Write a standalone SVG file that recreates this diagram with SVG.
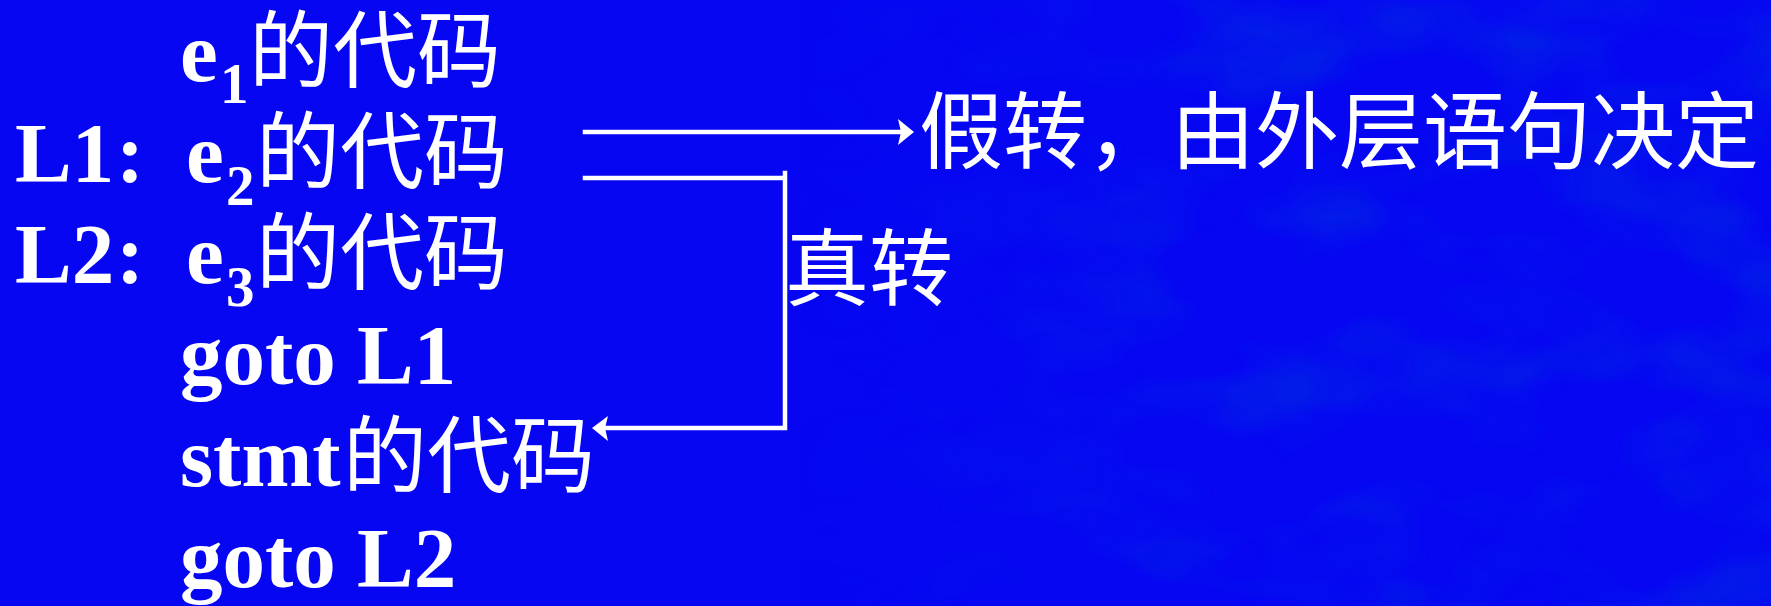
<svg xmlns="http://www.w3.org/2000/svg" width="1771" height="606" viewBox="0 0 1771 606">
<defs>
<style>
.t{fill:#fff;font-family:"Liberation Serif","Times New Roman",serif;font-weight:bold;font-size:85px}
.c{fill:#fff;font-family:"Noto Sans CJK SC","Noto Sans CJK JP",sans-serif;font-weight:normal;font-size:84px}
.s{font-size:57px}
.ln{fill:none;stroke:#fff;stroke-width:4.5;stroke-linecap:square}
.ah{fill:#fff;stroke:none}
</style>
<filter id="mottle" x="0" y="0" width="100%" height="100%">
<feTurbulence type="fractalNoise" baseFrequency="0.006 0.012" numOctaves="3" seed="7" result="n"/>
<feColorMatrix in="n" type="matrix" values="0 0 0 0 0  0 0 0 0 0.02  0 0 0 0 0.78  0 0 0 -2.2 1.25"/>
</filter>
<linearGradient id="fade" x1="0" y1="0" x2="1" y2="0">
<stop offset="0.45" stop-color="#fff" stop-opacity="0"/>
<stop offset="0.7" stop-color="#fff" stop-opacity="1"/>
</linearGradient>
<mask id="m"><rect width="1771" height="606" fill="url(#fade)"/></mask>
</defs>
<rect width="1771" height="606" fill="#0606f3"/>
<g id="bg" mask="url(#m)">
<rect width="1771" height="606" filter="url(#mottle)" opacity="0.8"/>
</g>
<g id="row-e1">
<text class="t" x="180" y="81">e<tspan class="s" x="220" y="103">1</tspan></text>
<text class="c" x="249" y="81">的代码</text>
</g>
<g id="row-L1">
<text class="t" x="15" y="182">L1<tspan x="116">:</tspan><tspan x="186">e</tspan><tspan class="s" x="226" y="205">2</tspan></text>
<text class="c" x="256" y="182">的代码</text>
</g>
<g id="row-L2">
<text class="t" x="15" y="283">L2<tspan x="116">:</tspan><tspan x="186">e</tspan><tspan class="s" x="226" y="306">3</tspan></text>
<text class="c" x="256" y="283">的代码</text>
</g>
<g id="row-goto1">
<text class="t" x="180" y="384">goto L1</text>
</g>
<g id="row-stmt">
<text class="t" x="180" y="486">stmt</text>
<text class="c" x="343" y="486">的代码</text>
</g>
<g id="row-goto2">
<text class="t" x="180" y="587">goto L2</text>
</g>
<g id="label-false">
<text class="c" x="919" y="162">假转，由外层语句决定</text>
</g>
<g id="label-true">
<text class="c" x="785" y="299">真转</text>
</g>
<g id="connectors">
<path class="ln" d="M585,132 H905"/>
<path class="ah" d="M914,132 L898,119 L901,132 L898,145 Z"/>
<path class="ln" d="M585,178 H785 M785,173 V428 H602"/>
<path class="ah" d="M592,428 L608,416 L605,428 L608,441 Z"/>
</g>
</svg>
